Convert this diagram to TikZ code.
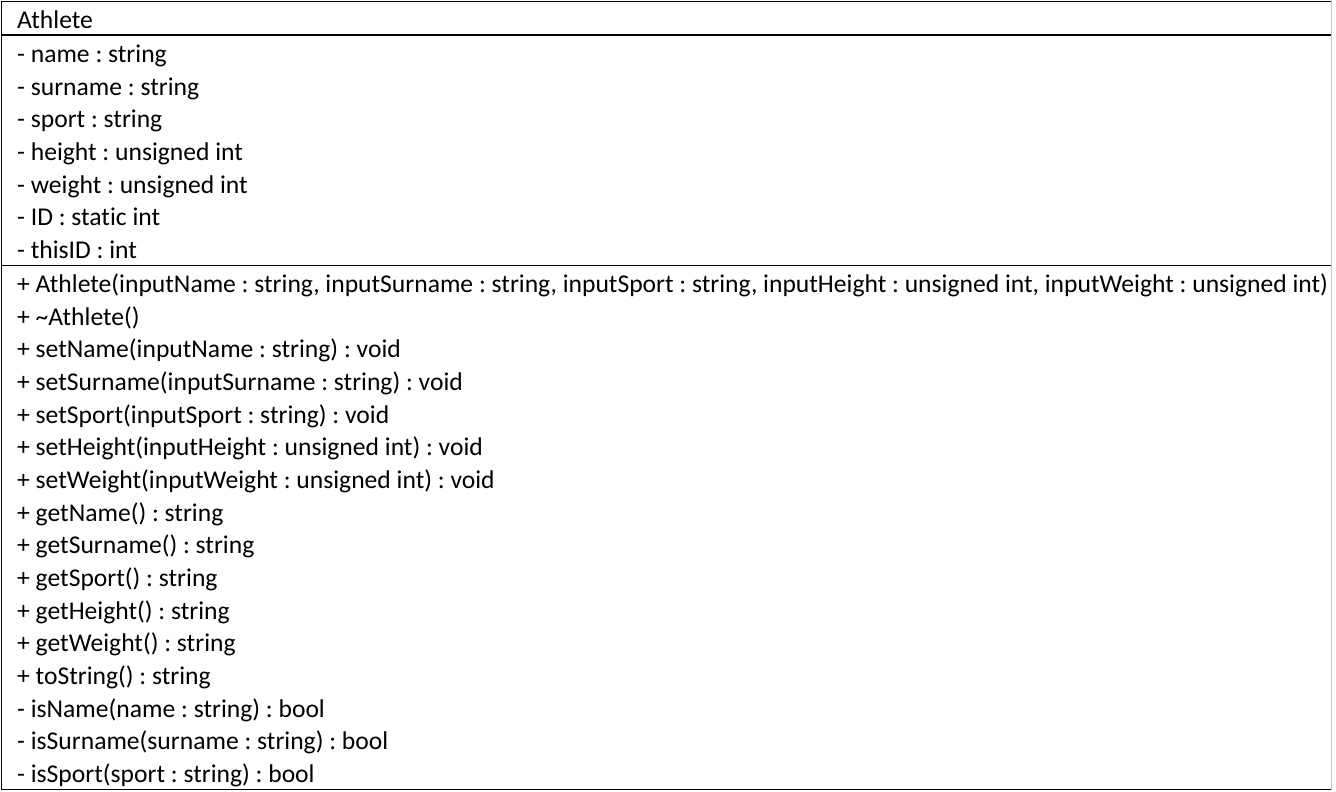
\documentclass[tikz,border=0pt]{standalone}
\usepackage{fontspec}
\setmainfont{Carlito}[Ligatures=NoCommon]
\usetikzlibrary{positioning}
\frenchspacing

\begin{document}
\begin{tikzpicture}[x=1pt,y=-1pt,
  member/.style={anchor=base west,inner sep=0pt,font=\fontsize{25.6}{28}\selectfont}]
%frame
\useasboundingbox (0,0) rectangle (1336,792);
\fill[white] (0,0) rectangle (1336,792);
\draw[line width=1.3pt] (1331,1.5)--(1.5,1.5)--(1.5,789.5)--(1331,789.5);
\draw[line width=1.3pt] (1.5,35)--(1331,35);
\draw[line width=1.3pt] (1.5,265.5)--(1331,265.5);
%class name
\node[member] (cls) at (17,28.5) {Athlete};
%attributes
\node[member] (aName) at (17,62.5) {- name : string};
\node[member] (aSurname) at (17,95.2) {- surname : string};
\node[member] (aSport) at (17,127.8) {- sport : string};
\node[member] (aHeight) at (17,160.5) {- height : unsigned int};
\node[member] (aWeight) at (17,193.2) {- weight : unsigned int};
\node[member] (aID) at (17,225.8) {- ID : static int};
\node[member] (aThisID) at (17,258.5) {- thisID : int};
%methods
\node[member] (mCtor) at (17,292.5) {+ Athlete(inputName : string, inputSurname : string, inputSport : string, inputHeight : unsigned int, inputWeight : unsigned int)};
\node[member] (mDtor) at (17,325.2) {+ \textasciitilde Athlete()};
\node[member] (mSetName) at (17,357.8) {+ setName(inputName : string) : void};
\node[member] (mSetSurname) at (17,390.5) {+ setSurname(inputSurname : string) : void};
\node[member] (mSetSport) at (17,423.2) {+ setSport(inputSport : string) : void};
\node[member] (mSetHeight) at (17,455.8) {+ setHeight(inputHeight : unsigned int) : void};
\node[member] (mSetWeight) at (17,488.5) {+ setWeight(inputWeight : unsigned int) : void};
\node[member] (mGetName) at (17,521.2) {+ getName() : string};
\node[member] (mGetSurname) at (17,553.8) {+ getSurname() : string};
\node[member] (mGetSport) at (17,586.5) {+ getSport() : string};
\node[member] (mGetHeight) at (17,619.2) {+ getHeight() : string};
\node[member] (mGetWeight) at (17,651.8) {+ getWeight() : string};
\node[member] (mToString) at (17,684.5) {+ toString() : string};
\node[member] (mIsName) at (17,717.2) {- isName(name : string) : bool};
\node[member] (mIsSurname) at (17,749.8) {- isSurname(surname : string) : bool};
\node[member] (mIsSport) at (17,782.5) {- isSport(sport : string) : bool};
%right edge
\fill[white] (1332,0) rectangle (1336,792);
\draw[gray!45,line width=1.3pt] (1331.5,0)--(1331.5,790);
\end{tikzpicture}
\end{document}
